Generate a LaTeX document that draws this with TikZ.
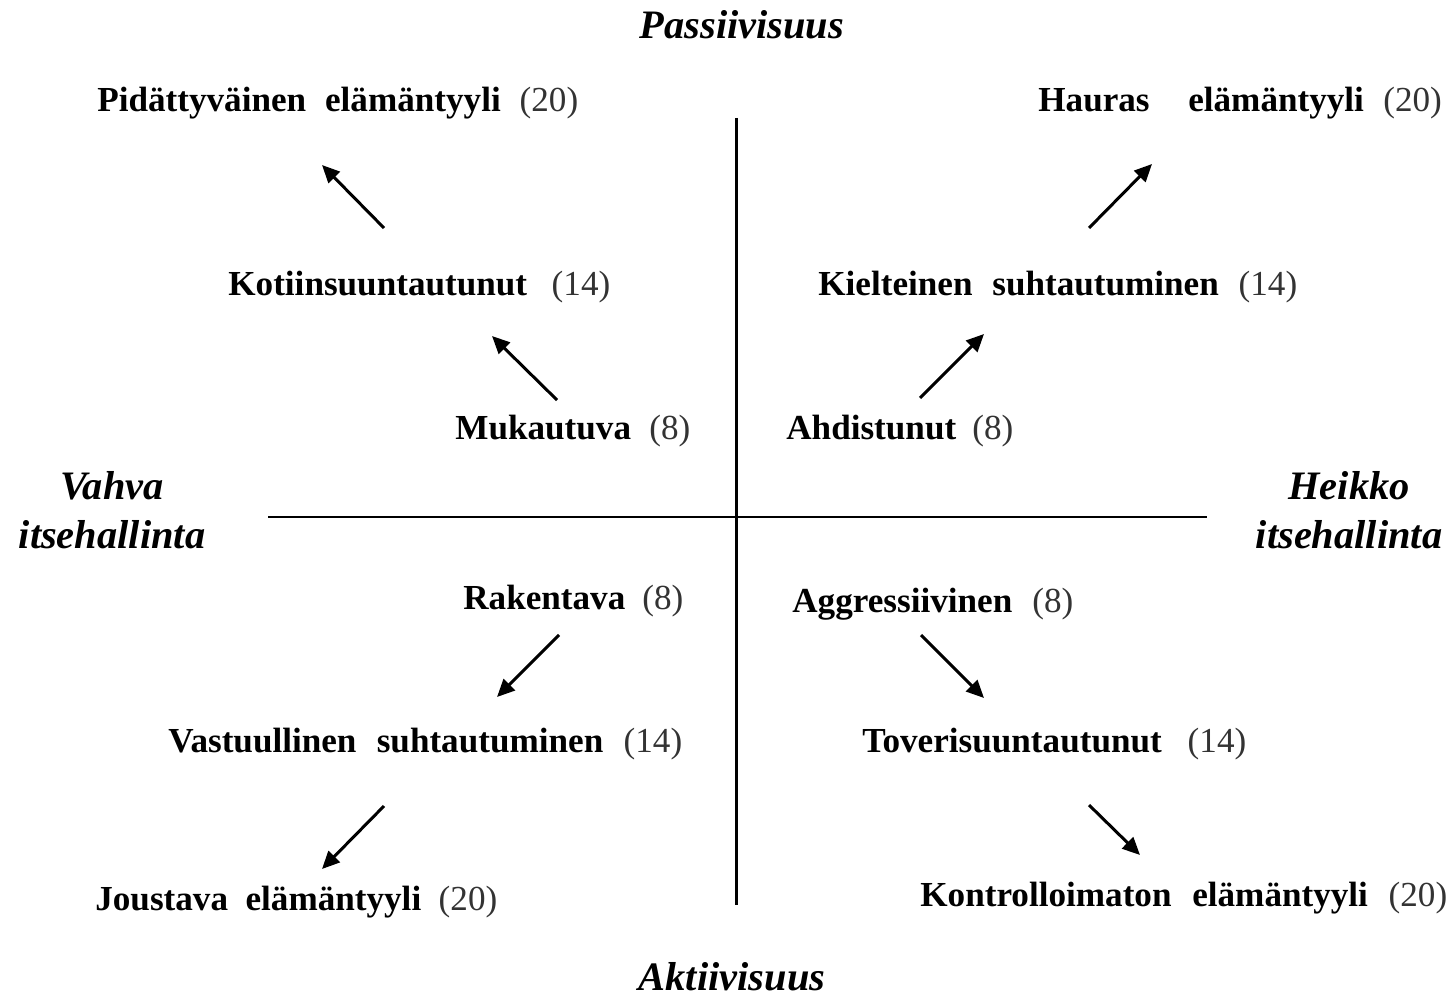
\documentclass[tikz,border=0pt]{standalone}
\usepackage{fontspec}
\setmainfont{Liberation Serif}
\usetikzlibrary{arrows.meta}
\definecolor{numgray}{HTML}{333333}
\newcommand{\num}[1]{\textmd{\color{numgray}(#1)}}
\newcommand{\fitlbl}[2]{\makebox[#1][s]{#2}}
\tikzset{
  x=0.02cm, y=-0.02cm,
  lbl/.style={anchor=west, inner sep=0pt, font=\fontsize{20}{22}\selectfont\bfseries},
  axislbl/.style={inner sep=0pt, font=\fontsize{23}{28}\selectfont\bfseries\itshape, align=center},
  axis/.style={line width=1.7pt},
  arr/.style={line width=1.7pt, -{Triangle[length=10pt,width=9pt]}}
}
\begin{document}
\begin{tikzpicture}
\useasboundingbox (0,0) rectangle (1456,1000);
% axes
\coordinate (vt) at (736,118);
\coordinate (vb) at (736,905);
\coordinate (hl) at (268,517);
\coordinate (hr) at (1207,517);
\draw[axis] (vt) -- (vb);
\draw[axis] (hl) -- (hr);
% axis labels
\node[axislbl] (pass) at (742,25) {Passiivisuus};
\node[axislbl] (akt) at (732,977) {Aktiivisuus};
\node[axislbl] (vahva) at (112,510) {Vahva\\itsehallinta};
\node[axislbl] (heikko) at (1349,510) {Heikko\\itsehallinta};
% labels
\node[lbl] (pid) at (97,103) {\fitlbl{9.62cm}{Pidättyväinen elämäntyyli \num{20}}};
\node[lbl] (hau) at (1038,103) {Hauras\hspace{1.1em}elämäntyyli\hspace{0.55em}\num{20}};
\node[lbl] (koti) at (228,287) {\fitlbl{7.64cm}{Kotiinsuuntautunut \num{14}}};
\node[lbl] (kiel) at (818,287) {\fitlbl{9.58cm}{Kielteinen suhtautuminen \num{14}}};
\node[lbl] (muk) at (455,431) {\fitlbl{4.70cm}{Mukautuva \num{8}}};
\node[lbl] (ahd) at (786,431) {\fitlbl{4.54cm}{Ahdistunut \num{8}}};
\node[lbl] (rak) at (463,601) {\fitlbl{4.40cm}{Rakentava \num{8}}};
\node[lbl] (agg) at (792,604) {\fitlbl{5.62cm}{Aggressiivinen \num{8}}};
\node[lbl] (vast) at (168,744) {\fitlbl{10.28cm}{Vastuullinen suhtautuminen \num{14}}};
\node[lbl] (tov) at (862,744) {\fitlbl{7.68cm}{Toverisuuntautunut \num{14}}};
\node[lbl] (jou) at (95,902) {\fitlbl{8.04cm}{Joustava elämäntyyli \num{20}}};
\node[lbl] (kon) at (920,898) {\fitlbl{10.54cm}{Kontrolloimaton elämäntyyli \num{20}}};
% arrow end points
\coordinate (a1s) at (384,228); \coordinate (a1e) at (322,165);
\coordinate (a2s) at (557,400); \coordinate (a2e) at (492,336);
\coordinate (a3s) at (920,398); \coordinate (a3e) at (984,334);
\coordinate (a4s) at (1089,228); \coordinate (a4e) at (1152,164);
\coordinate (a5s) at (559,635); \coordinate (a5e) at (497,697);
\coordinate (a6s) at (384,806); \coordinate (a6e) at (322,869);
\coordinate (a7s) at (921,635); \coordinate (a7e) at (984,698);
\coordinate (a8s) at (1089,805); \coordinate (a8e) at (1140,855);
\foreach \i in {1,...,8} \draw[arr] (a\i s) -- (a\i e);
\end{tikzpicture}
\end{document}
